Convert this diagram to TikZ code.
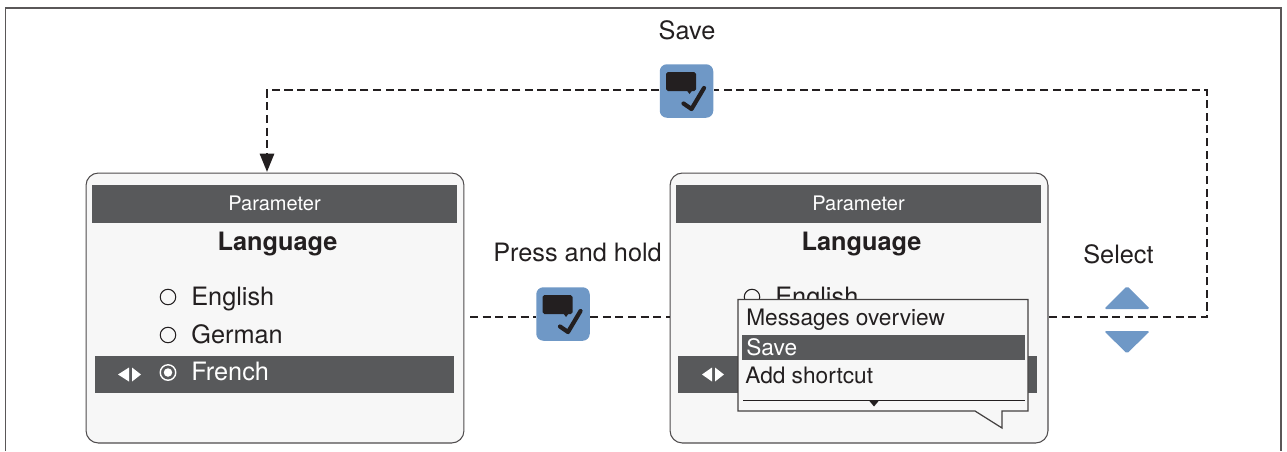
\documentclass[tikz,border=0pt]{standalone}
\usepackage{fontspec}
\setmainfont{TeX Gyre Heros}
\usetikzlibrary{arrows.meta}
\definecolor{darkbar}{HTML}{58595B}
\definecolor{panelbg}{HTML}{F7F7F7}
\definecolor{iconblue}{HTML}{6F98C6}
\definecolor{inkblack}{HTML}{231F20}

\begin{document}
\begin{tikzpicture}[
        x=0.02cm, y=-0.02cm,
        inkblack,
        label/.style={font=\fontsize{14.4}{16}\selectfont, text=inkblack, inner sep=0pt},
        item/.style={label, anchor=base west},
        itemwhite/.style={item, text=white},
        popitem/.style={item, font=\fontsize{12.9}{15}\selectfont},
        panel/.style={draw=inkblack!80, fill=panelbg, line width=0.6pt, rounded corners=7pt, minimum width=7.56cm, minimum height=5.4cm},
        header/.style={fill=darkbar, text=white, inner sep=0pt, minimum width=7.3cm, minimum height=0.76cm, font=\fontsize{11.4}{13}\selectfont},
        hilite/.style={fill=darkbar, inner sep=0pt, minimum width=7.18cm, minimum height=0.74cm},
        title/.style={label, anchor=base, font=\fontsize{14.4}{16}\selectfont\bfseries},
        radio/.style={circle, draw=inkblack, line width=0.6pt, fill=panelbg, inner sep=0pt, minimum size=0.31cm},
        popup/.style={draw=inkblack!85, fill=panelbg, line width=0.7pt, line join=miter},
        icon/.style={fill=iconblue, rounded corners=4pt, inner sep=0pt, minimum size=1.07cm},
        dashline/.style={draw=inkblack, line width=1.65pt, dash pattern=on 4.6pt off 2.6pt},
        arrow/.style={-{Triangle[length=10.5pt,width=8pt]}},
        pics/msgcheck/.style={code={
            \fill[inkblack, rounded corners=1pt] (-20.5,-19) rectangle (9.5,0);
            \fill[inkblack] (0,-1) -- (6,-1) -- (3,3) -- cycle;
            \draw[inkblack, line width=2.4pt, line cap=round, line join=round] (-3,12.5) -- (5,18) -- (17.5,-3);
        }}
    ]
        \useasboundingbox (0,0) rectangle (1287,451);

        % Outer frame
        \draw[inkblack!75, line width=0.6pt] (5.5,451) -- (5.5,8) -- (1281,8) -- (1281,451);

        % Left panel
        \node[panel] (panelL) at (275,308) {};
        \node[header] (headL) at (274.5,203.5) {Parameter};
        \node[title] (langL) at (277.5,250) {Language};
        \node[hilite] (barL) at (274.5,374.5) {};
        \node[radio] (radL1) at (168,297) {};
        \node[radio] (radL2) at (168,335) {};
        \node[radio, draw=white, fill=darkbar, line width=0.8pt] (radL3) at (168,372.5) {};
        \node[circle, fill=white, inner sep=0pt, minimum size=0.17cm] (dotL) at (168,372.5) {};
        \node[item] (engL) at (191,305) {English};
        \node[item] (gerL) at (191,343) {German};
        \node[itemwhite] (freL) at (191,380) {French};
        \fill[white] (118,374.5) -- (129,367.5) -- (129,381.5) -- cycle;
        \fill[white] (141,374.5) -- (132,367.5) -- (132,381.5) -- cycle;

        % Right panel
        \node[panel] (panelR) at (859,308) {};
        \node[header] (headR) at (858.5,203.5) {Parameter};
        \node[title] (langR) at (861.5,250) {Language};
        \node[hilite] (barR) at (857.5,374.5) {};
        \node[radio] (radR1) at (752,297) {};
        \node[item] (engR) at (775,305) {English};
        \fill[white] (702,374.5) -- (712,367.5) -- (712,381.5) -- cycle;
        \fill[white] (724,374.5) -- (715,367.5) -- (715,381.5) -- cycle;

        % Popup menu
        \draw[popup] (738,299.5) -- (1028,299.5) -- (1028,411) -- (1002,411) -- (1002,428) -- (975,411) -- (738,411) -- cycle;
        \node[fill=darkbar, inner sep=0pt, minimum width=5.66cm, minimum height=0.5cm] (barSave) at (883.5,347.5) {};
        \node[popitem] (popMsg) at (746,325.5) {Messages overview};
        \node[popitem, text=white] (popSave) at (746,355) {Save};
        \node[popitem] (popAdd) at (745,383) {Add shortcut};
        \draw[inkblack, line width=0.5pt] (743,400.5) -- (1025,400.5);
        \fill[inkblack] (869,400.5) -- (879,400.5) -- (874,406.5) -- cycle;

        % Icons
        \node[icon] (iconSave) at (686.5,91) {};
        \pic at (686.5,91) {msgcheck};
        \node[icon] (iconHold) at (563,314) {};
        \pic at (563,314) {msgcheck};

        % Select triangles
        \fill[iconblue, rounded corners=1pt] (1104,309) -- (1127,286) -- (1150,309) -- cycle;
        \fill[iconblue, rounded corners=1pt] (1104,331) -- (1127,353.5) -- (1150,331) -- cycle;

        % Free ends of the connectors
        \coordinate (holdOut) at (470,317);
        \coordinate (holdIn) at (670,317);
        \coordinate (selOut) at (1049,317);
        \coordinate (turnR) at (1207,317);
        \coordinate (turnL) at (267,90);
        \coordinate (panelIn) at (267,172);

        % Connectors
        \draw[dashline] (holdOut) -- (iconHold.west |- holdOut);
        \draw[dashline] (iconHold.east |- holdIn) -- (holdIn);
        \draw[dashline] (selOut) -- (turnR) -- (turnR |- turnL) -- (iconSave.east |- turnL);
        \draw[dashline, arrow] (iconSave.west |- turnL) -- (turnL) -- (panelIn);

        % Labels
        \node[label, anchor=base] (txtSave) at (687,39.5) {Save};
        \node[label, anchor=base] (txtHold) at (577.5,261) {Press and hold};
        \node[label, anchor=base] (txtSelect) at (1118.5,263) {Select};
    \end{tikzpicture}
\end{document}
